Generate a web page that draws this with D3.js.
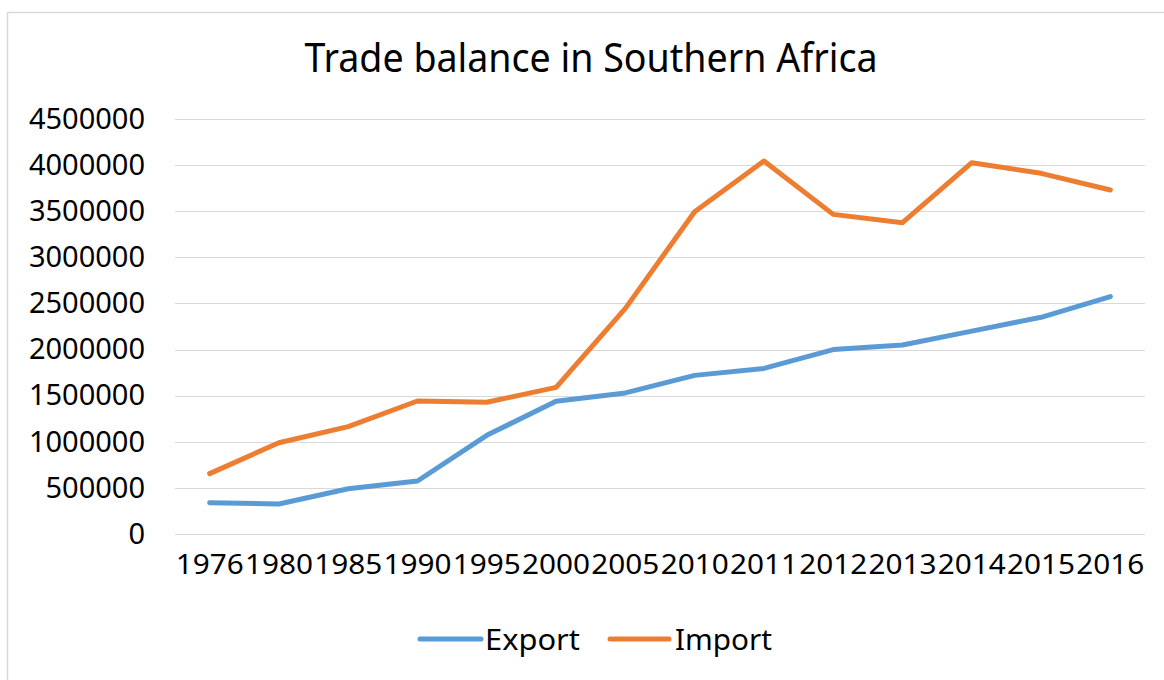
<!DOCTYPE html>
<html>
<head>
<meta charset="utf-8">
<script src="https://cdn.jsdelivr.net/npm/d3@7"></script>
<style>
  html, body { margin: 0; padding: 0; background: #ffffff; }
  svg { display: block; }
  text { font-family: "Noto Sans", "DejaVu Sans", sans-serif; fill: #000; }
</style>
</head>
<body>
<svg id="chart" width="1164" height="680"></svg>
<script>
const titleText = "Trade balance in Southern Africa";
const years = ["1976","1980","1985","1990","1995","2000","2005","2010","2011","2012","2013","2014","2015","2016"];
const exportValues = [340000, 325000, 490000, 575000, 1070000, 1440000, 1530000, 1720000, 1795000, 2000000, 2050000, 2200000, 2350000, 2575000];
const importValues = [655000, 990000, 1165000, 1442000, 1428000, 1590000, 2447000, 3495000, 4045000, 3466000, 3376000, 4026000, 3911000, 3730000];
const yTicks = [0, 500000, 1000000, 1500000, 2000000, 2500000, 3000000, 3500000, 4000000, 4500000];
const seriesNames = ["Export", "Import"];
const seriesColors = ["#5B9BD5", "#ED7D31"];

const svg = d3.select("#chart");

// frame
svg.append("rect")
  .attr("x", 7.5).attr("y", 12.5)
  .attr("width", 1200).attr("height", 700)
  .attr("fill", "none").attr("stroke", "#d9d9d9").attr("stroke-width", 1.5);

const plot = { left: 175, right: 1145, top: 119, bottom: 534 };

const x = d3.scaleBand().domain(years).range([plot.left, plot.right]);
const y = d3.scaleLinear().domain([0, 4500000]).range([plot.bottom, plot.top]);

// title
svg.append("text")
  .attr("x", 591).attr("y", 72)
  .attr("text-anchor", "middle")
  .attr("font-size", 40)
  .attr("textLength", 573).attr("lengthAdjust", "spacingAndGlyphs")
  .text(titleText);

// gridlines
svg.append("g")
  .selectAll("line")
  .data(yTicks)
  .join("line")
  .attr("x1", plot.left).attr("x2", plot.right)
  .attr("y1", d => Math.round(y(d)) + 0.5).attr("y2", d => Math.round(y(d)) + 0.5)
  .attr("stroke", "#d9d9d9").attr("stroke-width", 1.2);

// y axis
const yAxis = svg.append("g")
  .attr("transform", `translate(${plot.left},0)`)
  .call(d3.axisLeft(y).tickValues(yTicks).tickFormat(d3.format("d")).tickSize(0).tickPadding(30));
yAxis.select(".domain").remove();
yAxis.selectAll("text")
  .attr("font-size", 29)
  .attr("font-family", "'Noto Sans', 'DejaVu Sans', sans-serif")
  .attr("fill", "#000");

// x axis
const xAxis = svg.append("g")
  .attr("transform", `translate(0,${plot.bottom})`)
  .call(d3.axisBottom(x).tickSize(0).tickPadding(20));
xAxis.select(".domain").remove();
xAxis.selectAll("text")
  .attr("font-size", 28)
  .attr("font-family", "'Noto Sans', 'DejaVu Sans', sans-serif")
  .attr("fill", "#000")
  .attr("textLength", 68).attr("lengthAdjust", "spacingAndGlyphs");

// lines
const line = d3.line()
  .x((d, i) => x(years[i]) + x.bandwidth() / 2)
  .y(d => y(d));

[exportValues, importValues].forEach((vals, k) => {
  svg.append("path")
    .datum(vals)
    .attr("d", line)
    .attr("fill", "none")
    .attr("stroke", seriesColors[k])
    .attr("stroke-width", 5)
    .attr("stroke-linejoin", "round")
    .attr("stroke-linecap", "round");
});

// legend
const legendItems = [
  { name: seriesNames[0], color: seriesColors[0], x1: 420, x2: 481, tx: 485, tw: 95 },
  { name: seriesNames[1], color: seriesColors[1], x1: 610, x2: 669, tx: 675, tw: 97 }
];
const lg = svg.append("g");
legendItems.forEach(it => {
  lg.append("line")
    .attr("x1", it.x1).attr("x2", it.x2)
    .attr("y1", 639).attr("y2", 639)
    .attr("stroke", it.color).attr("stroke-width", 5)
    .attr("stroke-linecap", "round");
  lg.append("text")
    .attr("x", it.tx).attr("y", 650)
    .attr("font-size", 29)
    .attr("textLength", it.tw).attr("lengthAdjust", "spacingAndGlyphs")
    .text(it.name);
});
</script>
</body>
</html>
